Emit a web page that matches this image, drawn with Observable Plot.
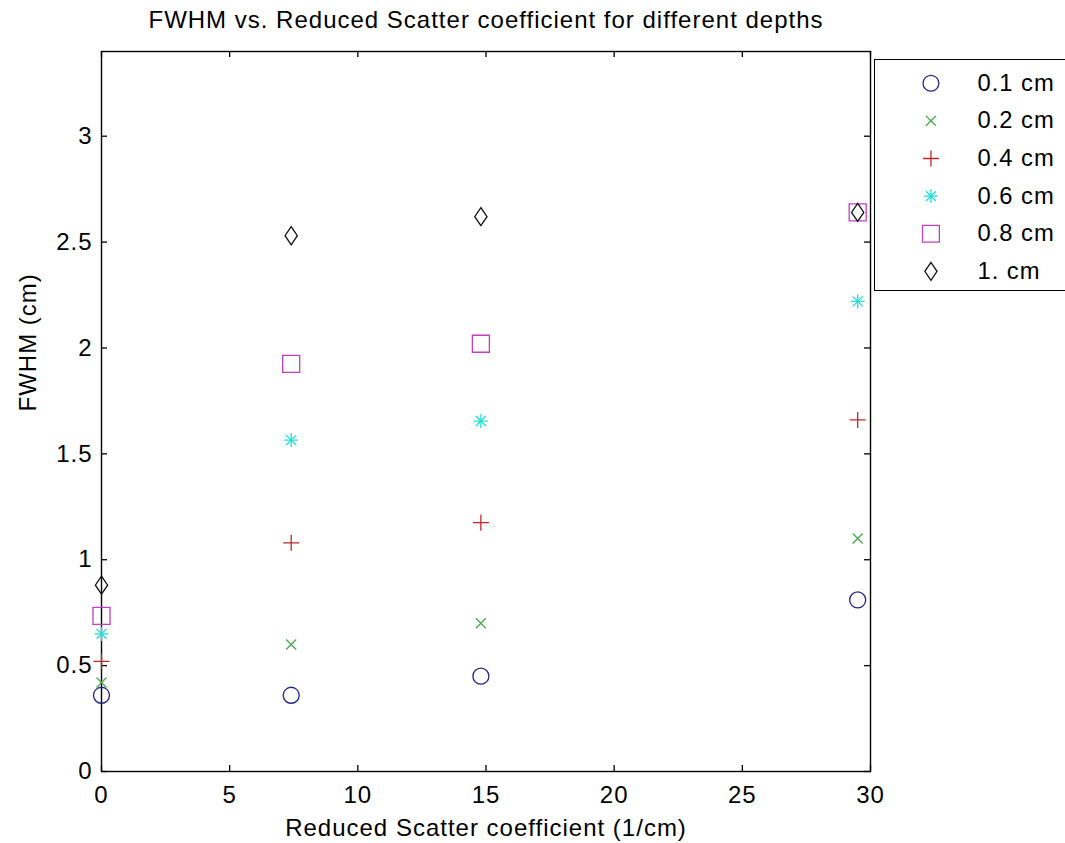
<!DOCTYPE html>
<html><head><meta charset="utf-8">
<script src="https://cdn.jsdelivr.net/npm/d3@7"></script>
<script src="https://cdn.jsdelivr.net/npm/@observablehq/plot@0.6"></script>
<style>
html,body{margin:0;padding:0;background:#fff;overflow:hidden;}
#wrap{position:relative;width:1065px;height:843px;overflow:hidden;}
#legend{position:absolute;left:874px;top:59px;width:200px;height:232px;border:1.4px solid #000;box-sizing:border-box;background:#fff;overflow:hidden;}
#legend svg{display:block;}
</style></head><body><div id="wrap"><div id="chart"></div><div id="legend"></div></div>
<script>
// ---- data ----
const scatterCoef = [0, 7.4, 14.8, 29.5];
const depthLabels = ["0.1 cm", "0.2 cm", "0.4 cm", "0.6 cm", "0.8 cm", "1. cm"];
const fwhm01 = [0.36, 0.36, 0.45, 0.81];
const fwhm02 = [0.42, 0.60, 0.70, 1.10];
const fwhm04 = [0.52, 1.08, 1.175, 1.66];
const fwhm06 = [0.65, 1.565, 1.655, 2.22];
const fwhm08 = [0.735, 1.925, 2.02, 2.64];
const fwhm10 = [0.88, 2.53, 2.62, 2.64];
const xTicks = [0, 5, 10, 15, 20, 25, 30];
const yTicks = [0, 0.5, 1, 1.5, 2, 2.5, 3];
const titleText = "FWHM vs. Reduced Scatter coefficient for different depths";
const xLabel = "Reduced Scatter coefficient (1/cm)";
const yLabel = "FWHM (cm)";

// ---- styles ----
// MATLAB-like diamond (taller than wide)
const matlabDiamond = {
  draw(ctx, size) {
    const r = Math.sqrt(size / Math.PI);
    const hy = r * 1.1, hx = r * 0.75;
    ctx.moveTo(0, -hy); ctx.lineTo(hx, 0); ctx.lineTo(0, hy); ctx.lineTo(-hx, 0); ctx.closePath();
  }
};
const seriesValues = [fwhm01, fwhm02, fwhm04, fwhm06, fwhm08, fwhm10];
const markerStyles = [
  [{symbol: "circle", r: 8}],
  [{symbol: "times", r: 4.6}],
  [{symbol: "plus", r: 5.2}],
  [{symbol: "plus", r: 4.6}, {symbol: "times", r: 4.6}],
  [{symbol: "square", r: 9.6}],
  [{symbol: matlabDiamond, r: 8.2}]
];
const colors = ["#24248a", "#4aaa4a", "#c02828", "#20dede", "#c040c0", "#111111"];
const font = {fontSize: "24px", fontFamily: "'Liberation Sans', Arial, sans-serif", letterSpacing: "1px", color: "#000", background: "#fff"};

const W = 1065, H = 843, mL = 101, mR = 195, mT = 51, mB = 72;
const frameW = W - mL - mR, frameH = H - mT - mB, tickLen = 6;

const rows = depthLabels.flatMap((label, i) =>
  scatterCoef.map((x, j) => ({label, x, y: seriesValues[i][j]})));

const pointMarks = depthLabels.flatMap((label, i) =>
  markerStyles[i].map(s => Plot.dot(rows.filter(d => d.label === label), {
    x: "x", y: "y", symbol: s.symbol, r: s.r, stroke: colors[i], fill: "none", strokeWidth: 1.3
  })));

const chart = Plot.plot({
  width: W, height: H,
  marginLeft: mL, marginRight: mR, marginTop: mT, marginBottom: mB,
  style: font,
  x: {domain: [0, 30]},
  y: {domain: [0, 3.4]},
  marks: [
    Plot.axisX({ticks: xTicks, tickSize: 0, tickPadding: 14, label: null, tickFormat: d => String(d)}),
    Plot.axisY({ticks: yTicks, tickSize: 0, tickPadding: 9, label: null, tickFormat: d => String(d)}),
    Plot.tickX(xTicks, {x: d => d, insetTop: frameH - tickLen, stroke: "#000", strokeWidth: 1.3}),
    Plot.tickX(xTicks, {x: d => d, insetBottom: frameH - tickLen, stroke: "#000", strokeWidth: 1.3}),
    Plot.tickY(yTicks, {y: d => d, insetRight: frameW - tickLen, stroke: "#000", strokeWidth: 1.3}),
    Plot.tickY(yTicks, {y: d => d, insetLeft: frameW - tickLen, stroke: "#000", strokeWidth: 1.3}),
    Plot.frame({stroke: "#000", strokeWidth: 1.4}),
    Plot.text([titleText], {text: d => d, frameAnchor: "top", dy: -31, lineAnchor: "middle", fontSize: 24}),
    Plot.text([xLabel], {text: d => d, frameAnchor: "bottom", dy: 57, lineAnchor: "middle", fontSize: 24}),
    Plot.text([yLabel], {text: d => d, frameAnchor: "left", dx: -73, rotate: -90, lineAnchor: "middle", fontSize: 24}),
    ...pointMarks
  ]
});
document.getElementById("chart").append(chart);

const legendRows = depthLabels.map((label, i) => ({label, i}));
const legendMarks = depthLabels.flatMap((label, i) =>
  markerStyles[i].map(s => Plot.dot([legendRows[i]], {
    y: "label", frameAnchor: "left", dx: 56, symbol: s.symbol, r: s.r,
    stroke: colors[i], fill: "none", strokeWidth: 1.3
  })));
const legend = Plot.plot({
  width: 200, height: 230,
  marginLeft: 0, marginRight: 0, marginTop: 23, marginBottom: 17,
  style: font,
  y: {type: "point", domain: depthLabels, padding: 0, axis: null},
  marks: [
    ...legendMarks,
    Plot.text(legendRows, {y: "label", text: "label", frameAnchor: "left", dx: 103, textAnchor: "start", fontSize: 24})
  ]
});
document.getElementById("legend").append(legend);
</script></body></html>
